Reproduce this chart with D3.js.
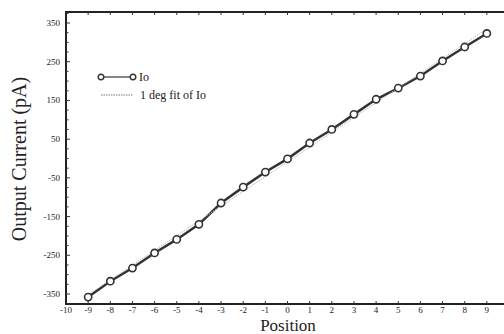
<!DOCTYPE html>
<html>
<head>
<meta charset="utf-8">
<script src="https://cdn.jsdelivr.net/npm/d3@7"></script>
<style>
  body { margin: 0; background: #fff; }
  svg { display: block; font-family: "Liberation Serif", "DejaVu Serif", serif; }
</style>
</head>
<body>
<svg id="chart" width="504" height="334"></svg>
<script>
// data
var positions = [-9, -8, -7, -6, -5, -4, -3, -2, -1, 0, 1, 2, 3, 4, 5, 6, 7, 8, 9];
var ioValues = [-358, -317, -283, -244, -209, -170, -115, -74, -35, -1, 40, 75, 114, 153, 182, 213, 252, 288, 323];
var fitX = [-9, 9];
var fitY = [-352, 335];
var yTickValues = [350, 250, 150, 50, -50, -150, -250, -350];
var xTickValues = d3.range(-10, 10);

var svg = d3.select('#chart');

var x = d3.scaleLinear().domain([-10, 10]).range([66, 509]);
var y = d3.scaleLinear().domain([-350, 350]).range([294, 23]);
var frameTop = 12, frameBottom = 304, frameLeft = 66;

// frame (right side runs off the picture)
svg.append('path')
    .attr('d', `M504,${frameTop}H${frameLeft}V${frameBottom}H504`)
    .attr('fill', 'none')
    .attr('stroke', '#222')
    .attr('stroke-width', 2);

// top and bottom ticks, pointing in
svg.selectAll('.xtick-b')
    .data(xTickValues.slice(1))
    .join('line')
    .attr('x1', d => x(d)).attr('x2', d => x(d))
    .attr('y1', frameBottom).attr('y2', frameBottom - 3)
    .attr('stroke', '#333');
svg.selectAll('.xtick-t')
    .data(xTickValues.slice(1))
    .join('line')
    .attr('x1', d => x(d)).attr('x2', d => x(d))
    .attr('y1', frameTop).attr('y2', frameTop + 3)
    .attr('stroke', '#333');

// x tick labels
svg.selectAll('.xlab')
    .data(xTickValues)
    .join('text')
    .attr('x', d => x(d))
    .attr('y', 313)
    .attr('text-anchor', 'middle')
    .attr('font-size', 9)
    .attr('fill', '#222')
    .text(d => d < 0 ? '-' + Math.abs(d) : d);

// y ticks every 25, labelled every 100
var yMinor = d3.range(-375, 376, 25);
svg.selectAll('.ytick')
    .data(yMinor)
    .join('line')
    .attr('x1', frameLeft).attr('x2', d => frameLeft + (yTickValues.includes(d) ? 4 : 2.5))
    .attr('y1', d => y(d)).attr('y2', d => y(d))
    .attr('stroke', '#333');

svg.selectAll('.ylab')
    .data(yTickValues)
    .join('text')
    .attr('x', 60)
    .attr('y', d => y(d) + 3)
    .attr('text-anchor', 'end')
    .attr('font-size', 9)
    .attr('fill', '#222')
    .text(d => d < 0 ? '-' + Math.abs(d) : d);

// axis titles
svg.append('text')
    .attr('transform', 'translate(26,159) rotate(-90)')
    .attr('text-anchor', 'middle')
    .attr('font-size', 20)
    .attr('fill', '#222')
    .text('Output Current (pA)');

svg.append('text')
    .attr('x', 288)
    .attr('y', 331)
    .attr('text-anchor', 'middle')
    .attr('font-size', 17)
    .attr('fill', '#222')
    .text('Position');

// data line
var line = d3.line().x(d => x(d[0])).y(d => y(d[1]));
var ioPts = positions.map((p, i) => [p, ioValues[i]]);

svg.append('path')
    .attr('d', line(ioPts))
    .attr('fill', 'none')
    .attr('stroke', '#333')
    .attr('stroke-width', 2.5);

// fit line
svg.append('path')
    .attr('d', line(fitX.map((p, i) => [p, fitY[i]])))
    .attr('fill', 'none')
    .attr('stroke', '#bbb')
    .attr('stroke-width', 1)
    .attr('stroke-dasharray', '1.5,1');

svg.selectAll('.pt')
    .data(ioPts)
    .join('circle')
    .attr('cx', d => x(d[0]))
    .attr('cy', d => y(d[1]))
    .attr('r', 3.6)
    .attr('fill', '#fff')
    .attr('stroke', '#333')
    .attr('stroke-width', 1.6);

// legend
var lg = svg.append('g');
lg.append('line')
    .attr('x1', 101).attr('x2', 133).attr('y1', 77).attr('y2', 77)
    .attr('stroke', '#333').attr('stroke-width', 1.2);
lg.selectAll('circle')
    .data([101, 133])
    .join('circle')
    .attr('cx', d => d).attr('cy', 77).attr('r', 2.8)
    .attr('fill', '#fff').attr('stroke', '#333').attr('stroke-width', 1.4);
lg.append('text')
    .attr('x', 139).attr('y', 81)
    .attr('font-size', 12).attr('fill', '#222')
    .text('Io');
lg.append('line')
    .attr('x1', 101).attr('x2', 133).attr('y1', 95).attr('y2', 95)
    .attr('stroke', '#777').attr('stroke-width', 1)
    .attr('stroke-dasharray', '1.5,1');
lg.append('text')
    .attr('x', 140).attr('y', 99)
    .attr('font-size', 12).attr('fill', '#222')
    .text('1 deg fit of Io');
</script>
</body>
</html>
